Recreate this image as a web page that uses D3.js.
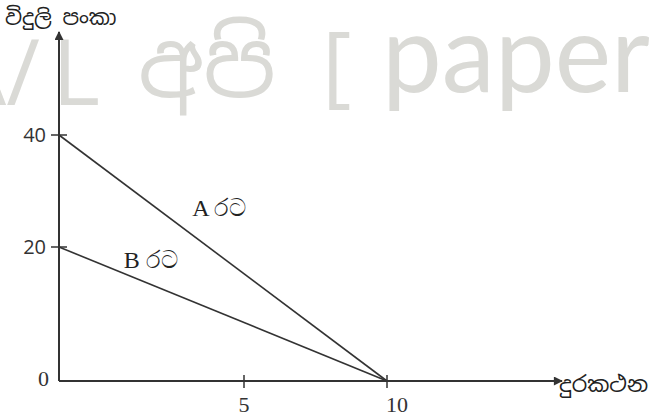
<!DOCTYPE html>
<html>
<head>
<meta charset="utf-8">
<script src="https://cdn.jsdelivr.net/npm/d3@7"></script>
<style>
  html, body { margin: 0; padding: 0; background: #ffffff; }
  svg { display: block; }
</style>
</head>
<body>
<svg id="chart" width="658" height="416"></svg>
<script>
// ---- data ----
const seriesNames = ["A රට", "B රට"];
const yIntercepts = [40, 20];      // fans (y) when phones = 0
const xIntercepts = [10, 10];      // phones (x) when fans = 0
const xTickValues = [5, 10];
const yTickValues = [0, 20, 40];
const xAxisTitle = "දුරකථන";
const yAxisTitle = "විදුලි පංකා";
const watermarkParts = ["A/", "L", "අපි", "[", "paper"];

// ---- layout ----
const svg = d3.select("#chart");
const ink = "#333333";
const serif = "'Liberation Serif', 'DejaVu Serif', serif";
const sans = "'Open Sans', 'Noto Sans', sans-serif";
const sinhala = "'Noto Sans Sinhala', 'Noto Sans', sans-serif";

// The sketch is not drawn to linear scale: piecewise linear scales mirror it
const x = d3.scaleLinear().domain([0, 5, 10]).range([59, 244, 387]);
const y = d3.scaleLinear().domain([0, 20, 40]).range([381, 247, 135]);

// watermark
const wm = svg.append("g").attr("fill", "#dadad6").attr("font-family", sans);
wm.append("text").attr("x", 40).attr("y", 105).attr("text-anchor", "end")
  .attr("font-size", 92).text(watermarkParts[0]);
wm.append("text").attr("x", 52).attr("y", 105)
  .attr("font-size", 92).text(watermarkParts[1]);
wm.append("text").attr("x", 138).attr("y", 97)
  .attr("font-size", 92).attr("font-family", sinhala).text(watermarkParts[2]);
wm.append("text").attr("x", 322).attr("y", 96)
  .attr("font-size", 90).text(watermarkParts[3]);
wm.append("text").attr("x", 382).attr("y", 92)
  .attr("font-size", 108).attr("font-family", "Lato, 'Open Sans', sans-serif")
  .attr("textLength", 268).attr("lengthAdjust", "spacingAndGlyphs").text(watermarkParts[4]);

// arrow marker
const defs = svg.append("defs");
defs.append("marker").attr("id", "arr").attr("viewBox", "0 0 10 10")
  .attr("refX", 9).attr("refY", 5)
  .attr("orient", "auto-start-reverse").attr("markerUnits", "userSpaceOnUse")
  .attr("markerWidth", 10).attr("markerHeight", 9)
  .append("path").attr("d", "M0,0 L10,5 L0,10 Z").attr("fill", ink);

// axes lines
svg.append("line").attr("x1", x(0)).attr("y1", y(0)).attr("x2", x(0)).attr("y2", 32)
  .attr("stroke", ink).attr("stroke-width", 2).attr("marker-end", "url(#arr)");
svg.append("line").attr("x1", x(0)).attr("y1", y(0)).attr("x2", 562).attr("y2", y(0))
  .attr("stroke", ink).attr("stroke-width", 2).attr("marker-end", "url(#arr)");

// y ticks
const yT = svg.append("g");
yTickValues.filter(d => d > 0).forEach(v => {
  yT.append("line").attr("x1", x(0) - 8).attr("x2", x(0) + 8)
    .attr("y1", y(v)).attr("y2", y(v)).attr("stroke", ink).attr("stroke-width", 1.5);
});
yTickValues.forEach(v => {
  yT.append("text").attr("x", v === 0 ? x(0) - 10 : x(0) - 13).attr("y", v === 0 ? y(0) - 3 : y(v))
    .attr("dy", "0.35em").attr("text-anchor", "end")
    .attr("font-family", v === 0 ? serif : sans).attr("font-size", v === 0 ? 22 : 20)
    .attr("fill", ink).text(v);
});

// x ticks
const xT = svg.append("g");
xTickValues.forEach(v => {
  xT.append("line").attr("x1", x(v)).attr("x2", x(v))
    .attr("y1", y(0) - 6).attr("y2", y(0) + 7).attr("stroke", ink).attr("stroke-width", 1.5);
  xT.append("text").attr("x", v === 10 ? x(v) + 10 : x(v)).attr("y", 412)
    .attr("text-anchor", "middle")
    .attr("font-family", serif).attr("font-size", 22).attr("fill", ink).text(v);
});

// budget lines
const line = d3.line().x(d => x(d[0])).y(d => y(d[1]));
seriesNames.forEach((name, i) => {
  svg.append("path")
    .datum([[0, yIntercepts[i]], [xIntercepts[i], 0]])
    .attr("d", line).attr("fill", "none")
    .attr("stroke", ink).attr("stroke-width", 1.6);
});

// series labels
const labelPos = [[3.6, 25.5], [1.75, 16.8]];
seriesNames.forEach((name, i) => {
  svg.append("text").attr("x", x(labelPos[i][0])).attr("y", y(labelPos[i][1]))
    .attr("font-family", serif).attr("font-size", 24).attr("fill", "#222")
    .text(name);
});

// axis titles
svg.append("text").attr("x", 5).attr("y", 25)
  .attr("font-family", sinhala).attr("font-size", 21).attr("fill", "#222")
  .text(yAxisTitle);
svg.append("text").attr("x", 559).attr("y", 392)
  .attr("font-family", sinhala).attr("font-size", 22).attr("fill", "#222")
  .text(xAxisTitle);
</script>
</body>
</html>
